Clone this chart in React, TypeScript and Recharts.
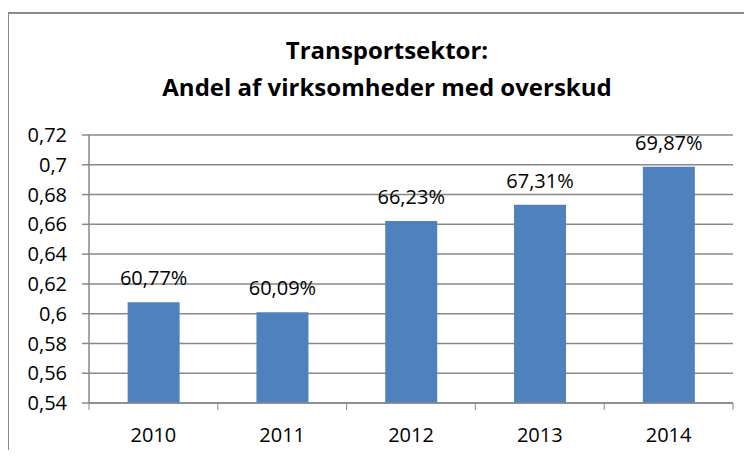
import { Bar, BarChart, CartesianGrid, LabelList, XAxis, YAxis } from "recharts";

const years = ["2010", "2011", "2012", "2013", "2014"];
const shares = [0.6077, 0.6009, 0.6623, 0.6731, 0.6987];
const yTicks = [0.54, 0.56, 0.58, 0.6, 0.62, 0.64, 0.66, 0.68, 0.7, 0.72];
const titleLines = ["Transportsektor:", "Andel af virksomheder med overskud"];

const data = years.map((year, i) => ({ year, share: shares[i] }));

const GRID = "#898989";
const FONT = "'Open Sans', sans-serif";

const fmtTick = (v: number) => String(Number(v.toFixed(2))).replace(".", ",");
const fmtPct = (v: any) => (Number(v) * 100).toFixed(2).replace(".", ",") + "%";

// category ticks sit on the band edges, labels in the middle
const YearTick = (props: any) => {
  const { x, y, payload, index, width } = props;
  const band = (Number(width) || 644) / years.length;
  const left = x - band / 2;
  return (
    <g>
      <line x1={left} x2={left} y1={y} y2={y + 7} stroke={GRID} />
      {index === years.length - 1 && (
        <line x1={left + band} x2={left + band} y1={y} y2={y + 7} stroke={GRID} />
      )}
      <text x={x} y={y + 39} textAnchor="middle" fill="#000" fontSize={20}>
        {payload.value}
      </text>
    </g>
  );
};

const App = () => {
  return (
    <div
      style={{
        position: "relative",
        width: 752,
        height: 458,
        margin: -8,
        overflow: "hidden",
        fontFamily: FONT,
        background: "#fff",
      }}
    >
      <div
        style={{
          position: "absolute",
          left: 7,
          top: 12,
          width: 800,
          height: 500,
          border: `2px solid ${GRID}`,
          boxSizing: "border-box",
        }}
      />
      <div
        style={{
          position: "absolute",
          left: 7,
          width: 760,
          top: 31,
          textAlign: "center",
          fontWeight: 700,
          fontSize: 24,
          lineHeight: "37px",
          color: "#000",
        }}
      >
        {titleLines.map((t) => (
          <div key={t}>{t}</div>
        ))}
      </div>
      <div style={{ position: "absolute", left: 0, top: 0 }}>
        <BarChart
          width={752}
          height={458}
          data={data}
          barCategoryGap="30%"
          margin={{ top: 135, right: 19, bottom: 0, left: 0 }}
        >
          <CartesianGrid vertical={false} stroke={GRID} strokeWidth={1.5} />
          <XAxis
            dataKey="year"
            height={55}
            tickSize={0}
            tickMargin={0}
            tickLine={false}
            axisLine={{ stroke: GRID, strokeWidth: 1.5 }}
            tick={<YearTick />}
          />
          <YAxis
            width={89}
            domain={[0.54, 0.72]}
            ticks={yTicks}
            interval={0}
            tickSize={7}
            tickMargin={15}
            tickFormatter={fmtTick}
            tick={{ fill: "#000", fontSize: 20 }}
            tickLine={{ stroke: GRID, strokeWidth: 1.5 }}
            axisLine={{ stroke: GRID, strokeWidth: 1.5 }}
          />
          <Bar dataKey="share" fill="#4F81BD" isAnimationActive={false}>
            <LabelList
              dataKey="share"
              position="top"
              offset={17}
              formatter={fmtPct}
              fill="#000"
              fontSize={20}
            />
          </Bar>
        </BarChart>
      </div>
    </div>
  );
};

export default App;
